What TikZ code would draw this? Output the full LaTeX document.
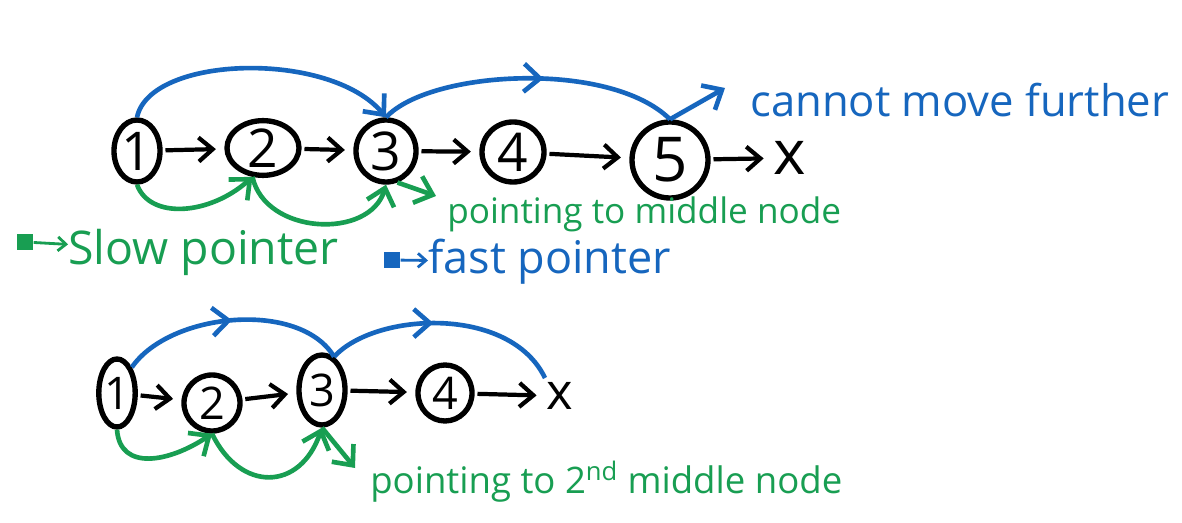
\documentclass[tikz,border=0pt]{standalone}
\usepackage{fontspec}
\setmainfont{Open Sans}
\usepackage{tikz}
\usetikzlibrary{shapes.geometric,arrows.meta,positioning,decorations.markings}

\definecolor{fastblue}{RGB}{22,102,190}
\definecolor{slowgreen}{RGB}{24,158,82}

\begin{document}
\begin{tikzpicture}[
  x=0.025cm, y=-0.025cm,
  lnode/.style={draw, ellipse, line width=3.8pt, inner sep=0pt, font=\fontsize{38}{40}\selectfont},
  endx/.style={inner sep=1pt, font=\fontsize{44}{44}\selectfont},
  nxt/.style={-{Straight Barb[length=3.5mm,width=6mm]}, line width=3pt, shorten >=6pt, shorten <=2pt},
  fast/.style={draw=fastblue, line width=3.3pt},
  slow/.style={draw=slowgreen, line width=3.3pt},
  tip/.style={-{Straight Barb[length=4mm,width=7mm]}},
  keytip/.style={-{Straight Barb[length=2mm,width=3.5mm]}, line width=2pt},
  midtip/.style={postaction={decorate}, decoration={markings, mark=at position #1 with {\arrow{Straight Barb[length=4mm,width=7mm]}}}},
  key/.style={minimum size=0.42cm, inner sep=0pt},
  fasttxt/.style={text=fastblue, inner sep=0pt, anchor=west},
  slowtxt/.style={text=slowgreen, inner sep=0pt, anchor=west}
]
\fill[white] (0,0) rectangle (1182,523);
\useasboundingbox (0,0) rectangle (1182,523);

\node[lnode, minimum width=1.15cm, minimum height=1.55cm] (a1) at (137,151) {1};
\node[lnode, minimum width=1.8cm, minimum height=1.35cm] (a2) at (263,148) {2};
\node[lnode, minimum width=1.5cm, minimum height=1.55cm] (a3) at (386,151) {3};
\node[lnode, minimum width=1.55cm, minimum height=1.5cm] (a4) at (513,152) {4};
\node[lnode, minimum width=1.9cm, minimum height=1.9cm, font=\fontsize{44}{46}\selectfont] (a5) at (670,160) {5};
\node[endx] (a6) at (790,158) {x};

\draw[nxt] (a1) -- (a2);
\draw[nxt] (a2) -- (a3);
\draw[nxt] (a3) -- (a4);
\draw[nxt] (a4) -- (a5);
\draw[nxt] (a5) -- (a6);

\draw[fast, tip] (a1.north) .. controls (150,55) and (330,50) .. (a3.north);
\draw[fast, midtip=0.55] (a3.north) .. controls (430,70) and (610,60) .. (a5.north);
\coordinate (fastend) at (725,88);
\draw[fast, tip] (a5.north) -- (fastend);
\node[fasttxt, font=\fontsize{31}{33}\selectfont] (stuck) at (750,100) {cannot move further};

\draw[slow, tip] (a1.south) .. controls (150,220) and (210,215) .. (a2.250);
\draw[slow, tip] (a2.250) .. controls (265,235) and (370,240) .. (a3.south);
\coordinate (midmark) at (436,196);
\draw[slow, tip] (a3.290) -- (midmark);
\node[slowtxt, font=\fontsize{25}{27}\selectfont] (midlbl) at (447,214) {pointing to middle node};

\node[key, fill=slowgreen] (slowkey) at (25,242) {};
\node[slowtxt, font=\fontsize{33}{35}\selectfont] (slowlbl) at (68,252) {Slow pointer};
\draw[slow, keytip] (slowkey) -- (slowlbl);
\node[key, fill=fastblue] (fastkey) at (392,260) {};
\node[fasttxt, font=\fontsize{32}{34}\selectfont] (fastlbl) at (428,262) {fast pointer};
\draw[fast, keytip] (fastkey) -- (fastlbl);

\node[lnode, minimum width=0.9cm, minimum height=1.7cm, font=\fontsize{32}{34}\selectfont] (b1) at (117,393) {1};
\node[lnode, minimum width=1.4cm, minimum height=1.4cm, font=\fontsize{32}{34}\selectfont] (b2) at (212,403) {2};
\node[lnode, minimum width=1.15cm, minimum height=1.75cm, font=\fontsize{32}{34}\selectfont] (b3) at (322,390) {3};
\node[lnode, minimum width=1.35cm, minimum height=1.4cm, font=\fontsize{32}{34}\selectfont] (b4) at (445,393) {4};
\node[endx, font=\fontsize{36}{36}\selectfont] (b5) at (560,396) {x};

\draw[nxt] (b1) -- (b2);
\draw[nxt] (b2) -- (b3);
\draw[nxt] (b3) -- (b4);
\draw[nxt] (b4) -- (b5);

\draw[fast, midtip=0.5] (b1.60) .. controls (170,312) and (300,300) .. (b3.70);
\coordinate (faststop) at (545,378);
\draw[fast, midtip=0.45] (b3.70) .. controls (375,312) and (510,305) .. (faststop);

\draw[slow, tip] (b1.south) .. controls (120,472) and (170,462) .. (b2.south);
\draw[slow, tip] (b2.south) .. controls (240,492) and (300,492) .. (b3.south);
\coordinate (secmid) at (355,468);
\draw[slow, tip] (b3.south) -- (secmid);
\node[slowtxt, font=\fontsize{26}{28}\selectfont] (seclbl) at (370,482) {pointing to 2\textsuperscript{nd} middle node};

\end{tikzpicture}
\end{document}
